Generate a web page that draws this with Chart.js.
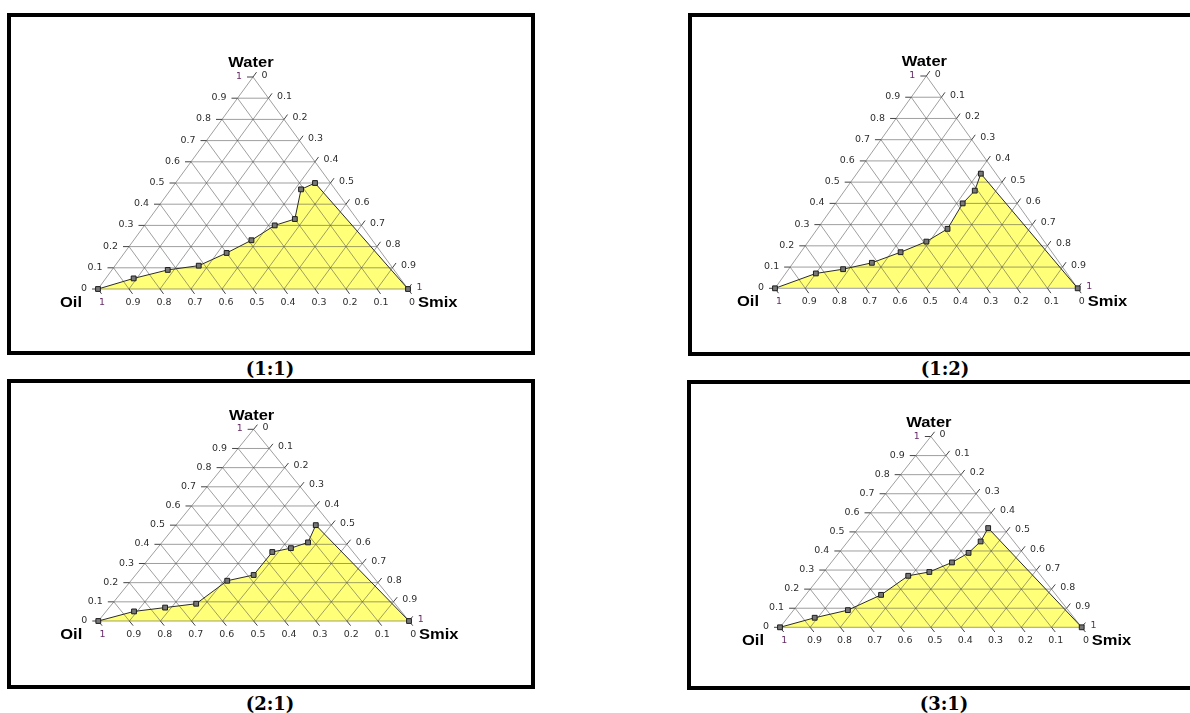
<!DOCTYPE html>
<html>
<head>
<meta charset="utf-8">
<title>Pseudo-ternary phase diagrams</title>
<script src="https://cdn.jsdelivr.net/npm/chart.js@4.4.1/dist/chart.umd.min.js"></script>
<style>
  html, body { margin: 0; padding: 0; background: #fff; }
  body { width: 1190px; height: 713px; position: relative; overflow: hidden; }
  .box { position: absolute; border: 4px solid #000; box-sizing: border-box; background: #fff; }
  .box canvas { position: absolute; left: 0; top: 0; }
  .caption { position: absolute; font: bold 18px "DejaVu Serif", serif; color: #000;
             transform: translate(-50%, -50%); white-space: nowrap; }
</style>
</head>
<body>
<script>
// tick values shared by the three axes
const tickValues = [0, 0.1, 0.2, 0.3, 0.4, 0.5, 0.6, 0.7, 0.8, 0.9, 1];
const tickLabels = ['0', '0.1', '0.2', '0.3', '0.4', '0.5', '0.6', '0.7', '0.8', '0.9', '1'];

// boundary points, Smix ratio 1:1
const oil11   = [1, 0.86, 0.73, 0.62, 0.50, 0.39, 0.28, 0.20, 0.11, 0.05, 0];
const water11 = [0, 0.05, 0.09, 0.11, 0.17, 0.23, 0.30, 0.33, 0.47, 0.50, 0];
const smix11  = [0, 0.09, 0.18, 0.27, 0.33, 0.38, 0.42, 0.47, 0.42, 0.45, 1];

// Smix ratio 1:2
const oil12   = [1, 0.83, 0.73, 0.62, 0.50, 0.39, 0.29, 0.18, 0.11, 0.05, 0];
const water12 = [0, 0.07, 0.09, 0.12, 0.17, 0.22, 0.28, 0.40, 0.46, 0.54, 0];
const smix12  = [0, 0.10, 0.18, 0.26, 0.33, 0.39, 0.43, 0.42, 0.43, 0.41, 1];

// Smix ratio 2:1
const oil21   = [1, 0.86, 0.75, 0.64, 0.48, 0.38, 0.26, 0.19, 0.12, 0.05, 0];
const water21 = [0, 0.05, 0.07, 0.09, 0.21, 0.24, 0.36, 0.38, 0.41, 0.50, 0];
const smix21  = [0, 0.09, 0.18, 0.27, 0.31, 0.38, 0.38, 0.43, 0.47, 0.45, 1];

// Smix ratio 3:1
const oil31   = [1, 0.86, 0.73, 0.58, 0.44, 0.36, 0.26, 0.18, 0.11, 0.05, 0];
const water31 = [0, 0.05, 0.09, 0.17, 0.27, 0.29, 0.34, 0.39, 0.45, 0.52, 0];
const smix31  = [0, 0.09, 0.18, 0.25, 0.29, 0.35, 0.40, 0.43, 0.44, 0.43, 1];

const panels = [
  { caption: '(1:1)', oil: oil11, water: water11, smix: smix11,
    box: { left: 7, top: 13, width: 528, height: 342 },
    tri: { left: 98, right: 408, top: 77, base: 289 }, cap: { x: 270, y: 368 } },
  { caption: '(1:2)', oil: oil12, water: water12, smix: smix12,
    box: { left: 688, top: 13, width: 528, height: 343 },
    tri: { left: 775, right: 1077.7, top: 76, base: 288.3 }, cap: { x: 945, y: 368 } },
  { caption: '(2:1)', oil: oil21, water: water21, smix: smix21,
    box: { left: 7, top: 379, width: 528, height: 310 },
    tri: { left: 98.3, right: 409, top: 429.3, base: 621 }, cap: { x: 270, y: 703 } },
  { caption: '(3:1)', oil: oil31, water: water31, smix: smix31,
    box: { left: 687, top: 380, width: 528, height: 310 },
    tri: { left: 780, right: 1081.7, top: 436.5, base: 627.3 }, cap: { x: 944, y: 703 } }
];

const BORDER = 4;
const TICK_LEN = 6;
const TEXT_STRETCH = 1.18;   // the original picture is stretched sideways

// ternary (oil, water, smix) -> cartesian data coords, Oil at (0,0), Smix at (1,0), Water at (0.5,1)
function toXY(oil, water, smix) {
  return { x: smix + water / 2, y: water };
}

function gridSegments() {
  const pts = [];
  const gap = () => pts.push({ x: 0, y: null });
  tickValues.slice(1, -1).forEach(t => {
    pts.push(toXY(1 - t, t, 0), toXY(0, t, 1 - t)); gap();       // constant water
    pts.push(toXY(t, 1 - t, 0), toXY(t, 0, 1 - t)); gap();       // constant oil
    pts.push(toXY(1 - t, 0, t), toXY(0, 1 - t, t)); gap();       // constant smix
  });
  pts.push(toXY(1, 0, 0), toXY(0, 1, 0), toXY(0, 0, 1), toXY(1, 0, 0));
  return pts;
}

// tick start/end points in data coords for each axis
function tickSets(tri) {
  const wPx = tri.right - tri.left, hPx = tri.base - tri.top;
  const dx = TICK_LEN / wPx;
  const k = TICK_LEN / Math.hypot(0.5 * wPx, hPx);
  const left = [], bottom = [], right = [];
  tickValues.forEach(t => {
    const a = toXY(1 - t, t, 0);
    left.push({ from: a, to: { x: a.x - dx, y: a.y } });
    const b = toXY(t, 0, 1 - t);
    bottom.push({ from: b, to: { x: b.x + 0.5 * k, y: b.y - k } });
    const c = toXY(0, 1 - t, t);
    right.push({ from: c, to: { x: c.x + 0.5 * k, y: c.y + k } });
  });
  return { left, bottom, right };
}

function drawText(ctx, text, x, y, align) {
  ctx.save();
  ctx.translate(x, y);
  ctx.scale(TEXT_STRETCH, 1);
  ctx.textAlign = align;
  ctx.textBaseline = 'middle';
  ctx.fillText(text, 0, 0);
  ctx.restore();
}

const ternaryText = {
  id: 'ternaryText',
  afterDatasetsDraw(chart, args, opts) {
    const { ctx, scales: { x, y } } = chart;
    const P = p => ({ x: x.getPixelForValue(p.x), y: y.getPixelForValue(p.y) });
    const ticks = opts.ticks;
    ctx.save();
    ctx.font = '8px "DejaVu Sans", sans-serif';
    tickValues.forEach((t, i) => {
      ctx.fillStyle = tickLabels[i] === '1' ? '#652a65' : '#2e2e2e';
      const l = P(ticks.left[i].to);
      drawText(ctx, tickLabels[i], l.x - 5, l.y, 'right');
      // bottom axis reads oil: 1 at the oil corner
      const b = P(ticks.bottom[i].to);
      drawText(ctx, tickLabels[i], b.x + 0.5, P(ticks.bottom[i].from).y + 14, 'center');
      const r = P(ticks.right[i].to);
      drawText(ctx, tickLabels[i], r.x + 5, P(ticks.right[i].from).y - 1.5, 'left');
    });
    ctx.fillStyle = '#000';
    ctx.font = 'bold 14px "Liberation Sans", Arial, sans-serif';
    const apex = P(toXY(0, 1, 0)), oilV = P(toXY(1, 0, 0)), smixV = P(toXY(0, 0, 1));
    drawText(ctx, 'Water', apex.x - 2, apex.y - 13.5, 'center');
    drawText(ctx, 'Oil', oilV.x - 16, oilV.y + 14, 'right');
    drawText(ctx, 'Smix', smixV.x + 10, smixV.y + 14, 'left');
    ctx.restore();
  }
};

panels.forEach(p => {
  const box = document.createElement('div');
  box.className = 'box';
  Object.assign(box.style, { left: p.box.left + 'px', top: p.box.top + 'px',
    width: p.box.width + 'px', height: p.box.height + 'px' });
  const canvas = document.createElement('canvas');
  const innerW = p.box.width - 2 * BORDER, innerH = p.box.height - 2 * BORDER;
  canvas.width = innerW; canvas.height = innerH;
  canvas.style.width = innerW + 'px'; canvas.style.height = innerH + 'px';
  box.appendChild(canvas);
  document.body.appendChild(box);

  const cap = document.createElement('div');
  cap.className = 'caption';
  cap.textContent = p.caption;
  cap.style.left = p.cap.x + 'px';
  cap.style.top = p.cap.y + 'px';
  document.body.appendChild(cap);

  const ox = p.box.left + BORDER, oy = p.box.top + BORDER;
  const padding = {
    left: p.tri.left - ox,
    right: ox + innerW - p.tri.right,
    top: p.tri.top - oy,
    bottom: oy + innerH - p.tri.base
  };

  const curve = p.oil.map((o, i) => toXY(o, p.water[i], p.smix[i]));
  const ticks = tickSets(p.tri);
  const tickSegs = [];
  ['left', 'bottom', 'right'].forEach(side => ticks[side].forEach(t => {
    tickSegs.push(t.from, t.to, { x: 0, y: null });
  }));

  new Chart(canvas, {
    type: 'scatter',
    data: {
      datasets: [
        { data: curve, showLine: true, borderColor: '#2b2b2b', borderWidth: 1,
          pointStyle: 'rect', pointRadius: 3.4, pointBackgroundColor: '#777',
          pointBorderColor: '#1e1e1e', pointBorderWidth: 1, order: 0, clip: false },
        { data: tickSegs, showLine: true, borderColor: '#444', borderWidth: 1,
          pointRadius: 0, order: 1, clip: false },
        { data: gridSegments(), showLine: true, borderColor: 'rgba(80,80,80,0.55)', borderWidth: 1,
          pointRadius: 0, order: 2, clip: false },
        { data: curve, showLine: true, fill: 'origin', backgroundColor: '#ffff78',
          borderWidth: 0, pointRadius: 0, order: 3, clip: false }
      ]
    },
    options: {
      responsive: false,
      animation: false,
      events: [],
      layout: { padding },
      scales: {
        x: { type: 'linear', min: 0, max: 1, display: false },
        y: { type: 'linear', min: 0, max: 1, display: false }
      },
      plugins: {
        legend: { display: false },
        tooltip: { enabled: false },
        ternaryText: { ticks }
      }
    },
    plugins: [ternaryText]
  });
});
</script>
</body>
</html>
